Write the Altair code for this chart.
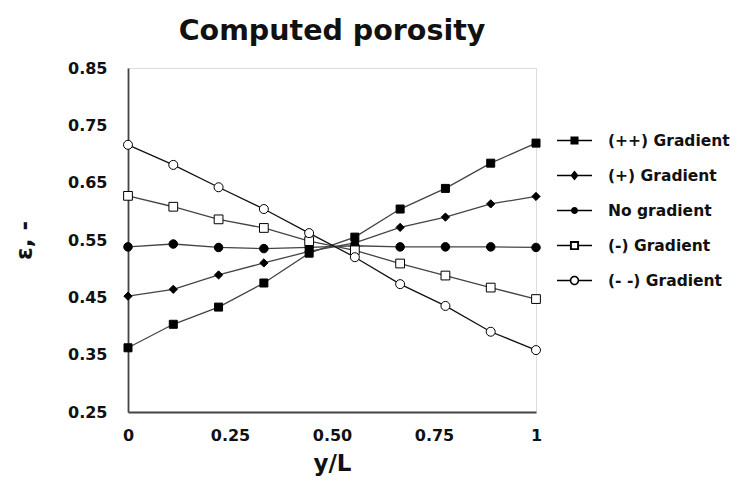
import altair as alt
import pandas as pd

xs = [0, 0.111, 0.222, 0.333, 0.444, 0.556, 0.667, 0.778, 0.889, 1]
series_names = ["(++) Gradient", "(+) Gradient", "No gradient", "(-) Gradient", "(- -) Gradient"]
pp = [0.362, 0.403, 0.433, 0.475, 0.527, 0.555, 0.604, 0.640, 0.684, 0.719]
p = [0.452, 0.464, 0.489, 0.510, 0.530, 0.545, 0.572, 0.590, 0.613, 0.626]
no = [0.538, 0.543, 0.537, 0.535, 0.537, 0.540, 0.538, 0.538, 0.538, 0.537]
m = [0.627, 0.608, 0.586, 0.571, 0.548, 0.532, 0.509, 0.488, 0.467, 0.447]
mm = [0.716, 0.681, 0.642, 0.604, 0.562, 0.520, 0.473, 0.435, 0.390, 0.358]
y_ticks = [0.25, 0.35, 0.45, 0.55, 0.65, 0.75, 0.85]
x_ticks = [0, 0.25, 0.5, 0.75, 1]

rows = []
for name, vals in zip(series_names, [pp, p, no, m, mm]):
    for xv, yv in zip(xs, vals):
        rows.append({"x": xv, "y": yv, "series": name})
df = pd.DataFrame(rows)

FONT = "DejaVu Sans"

x_enc = alt.X("x:Q", scale=alt.Scale(domain=[0, 1], nice=False, zero=False),
              axis=alt.Axis(values=x_ticks, title="y/L", grid=False, ticks=False,
                            labelExpr="datum.value == 0 ? '0' : datum.value == 1 ? '1' : format(datum.value, '.2f')",
                            labelPadding=15, titlePadding=9, labelFontSize=16, titleFontSize=23,
                            labelFont=FONT, titleFont=FONT, labelFontWeight="bold", titleFontWeight="bold",
                            labelColor="#111", titleColor="#111", domainColor="#444", domainWidth=1.8,
                            labelFlush=False))
y_enc = alt.Y("y:Q", scale=alt.Scale(domain=[0.25, 0.85], nice=False, zero=False),
              axis=alt.Axis(values=y_ticks, format=".2f", title="ε, -", grid=False, ticks=False,
                            labelPadding=21, labelFontSize=16, titleFontSize=23,
                            labelFont=FONT, titleFont=FONT, labelFontWeight="bold", titleFontWeight="bold",
                            labelColor="#111", titleColor="#111", domainColor="#444", domainWidth=1.8,
                            titleX=-92, labelFlush=False))

lines = alt.Chart(df).mark_line().encode(
    x=x_enc, y=y_enc, detail="series:N",
    color=alt.Color("series:N", scale=alt.Scale(domain=series_names,
                    range=["#444", "#444", "#444", "#444", "#111"]), legend=None),
    strokeWidth=alt.StrokeWidth("series:N", scale=alt.Scale(domain=series_names,
                    range=[1.3, 1.3, 1.3, 1.3, 2.4]), legend=None),
)

points = alt.Chart(df).mark_point(opacity=1, color="black").encode(
    x="x:Q", y="y:Q",
    shape=alt.Shape("series:N", scale=alt.Scale(domain=series_names,
                    range=["square", "diamond", "circle", "square", "circle"]), legend=None),
    fill=alt.Fill("series:N", scale=alt.Scale(domain=series_names,
                    range=["black", "black", "black", "white", "white"]), legend=None),
    size=alt.Size("series:N", scale=alt.Scale(domain=series_names,
                    range=[64, 81, 55, 100, 90]), legend=None),
    strokeWidth=alt.StrokeWidth("series:N", scale=alt.Scale(domain=series_names,
                    range=[1, 1, 1, 2.5, 1.7]), legend=None),
)

# legend glyphs: line segments + marker, drawn as filled outlines (rings for hollow markers)
L = "M-1,-0.045H-{a}V0.045H-1Z M{a},-0.045H1V0.045H{a}Z "
legend_paths = [
    L.format(a=0.2) + "M-0.23,-0.23H0.23V0.23H-0.23Z",
    L.format(a=0.2) + "M0,-0.29L0.23,0L0,0.29L-0.23,0Z",
    L.format(a=0.18) + "M0.2,0A0.2,0.2,0,1,1,-0.2,0A0.2,0.2,0,1,1,0.2,0Z",
    L.format(a=0.26) + "M-0.26,-0.26H0.26V0.26H-0.26Z M-0.15,-0.15V0.15H0.15V-0.15Z",
    L.format(a=0.26) + "M0.27,0A0.27,0.27,0,1,1,-0.27,0A0.27,0.27,0,1,1,0.27,0Z "
                       "M0.18,0A0.18,0.18,0,1,0,-0.18,0A0.18,0.18,0,1,0,0.18,0Z",
]
leg = alt.Legend(title=None, orient="none", legendX=429, legendY=55, padding=0,
                 symbolSize=1225, symbolStrokeWidth=0, symbolOpacity=1,
                 symbolFillColor="black",
                 labelFont=FONT, labelFontSize=15.5, labelFontWeight="bold", labelColor="#111",
                 labelOffset=16, labelLimit=300, rowPadding=9)

legend_layer = alt.Chart(df).transform_filter("datum.x > 5").mark_point(
    filled=True, color="black", opacity=1, strokeWidth=0).encode(
    x="x:Q", y="y:Q",
    shape=alt.Shape("series:N", scale=alt.Scale(domain=series_names, range=legend_paths), legend=leg),
)

chart = alt.layer(lines, points, legend_layer).resolve_scale(
    shape="independent", fill="independent", size="independent", strokeWidth="independent",
    color="independent"
).properties(
    width=408, height=344,
    title=alt.Title("Computed porosity", font=FONT, fontSize=28.5, fontWeight="bold",
                    color="#111", offset=15, anchor="middle"),
    autosize=alt.AutoSizeParams(type="none"),
    padding={"left": 120, "top": 60, "right": 197, "bottom": 71},
).configure_view(stroke="#555", strokeWidth=1.5).configure(background="white")

chart.save("out.html", embed_options={"renderer": "svg", "actions": False})
